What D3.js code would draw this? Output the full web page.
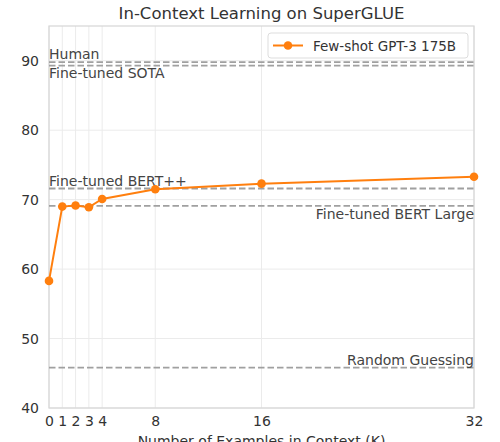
<!DOCTYPE html>
<html><head><meta charset="utf-8">
<script src="https://cdn.jsdelivr.net/npm/d3@7"></script>
<style>body{margin:0;background:#fff;} svg{display:block;font-family:"DejaVu Sans",sans-serif;}</style>
</head><body>
<script>
const kValues = [0, 1, 2, 3, 4, 8, 16, 32];
const gpt3Scores = [58.3, 69.0, 69.15, 68.9, 70.1, 71.5, 72.3, 73.3];
const xTicks = [0, 1, 2, 3, 4, 8, 16, 32];
const yTicks = [40, 50, 60, 70, 80, 90];
const refNames = ["Human", "Fine-tuned SOTA", "Fine-tuned BERT++", "Fine-tuned BERT Large", "Random Guessing"];
const refValues = [89.8, 89.3, 71.6, 69.1, 45.8];
const seriesName = "Few-shot GPT-3 175B";

const W = 500, H = 442;
const m = {l: 49, r: 26, t: 26, b: 34};
const svg = d3.select("body").append("svg").attr("width", W).attr("height", H);
const x = d3.scaleLinear().domain([0, 32]).range([m.l, W - m.r]);
const y = d3.scaleLinear().domain([40, 95]).range([H - m.b, m.t]);

// grid
svg.append("g").selectAll("line").data(xTicks).join("line")
  .attr("x1", d => x(d)).attr("x2", d => x(d)).attr("y1", m.t).attr("y2", H - m.b)
  .attr("stroke", "#ebebeb").attr("stroke-width", 1);
svg.append("g").selectAll("line").data(yTicks).join("line")
  .attr("x1", m.l).attr("x2", W - m.r).attr("y1", d => y(d)).attr("y2", d => y(d))
  .attr("stroke", "#ebebeb").attr("stroke-width", 1);

// frame
svg.append("rect").attr("x", m.l).attr("y", m.t).attr("width", W - m.r - m.l).attr("height", H - m.b - m.t)
  .attr("fill", "none").attr("stroke", "#d6d6d6").attr("stroke-width", 1.2);

// axes
const xAxis = svg.append("g").attr("transform", `translate(0,${H - m.b})`)
  .call(d3.axisBottom(x).tickValues(xTicks).tickSize(0).tickPadding(8).tickFormat(d3.format("d")));
const yAxis = svg.append("g").attr("transform", `translate(${m.l},0)`)
  .call(d3.axisLeft(y).tickValues(yTicks).tickSize(0).tickPadding(10).tickFormat(d3.format("d")));
[xAxis, yAxis].forEach(a => {
  a.select(".domain").remove();
  a.selectAll("text").attr("fill", "#333").style("font-size", "14px").style("font-family", "DejaVu Sans");
});

// reference lines
svg.append("g").selectAll("line").data(refValues).join("line")
  .attr("x1", m.l).attr("x2", W - m.r).attr("y1", d => y(d)).attr("y2", d => y(d))
  .attr("stroke", "#a0a0a0").attr("stroke-width", 1.8).attr("stroke-dasharray", "6.5,3");

const lab = (i, anchor, dy) => svg.append("text")
  .attr("x", anchor === "start" ? m.l : W - m.r).attr("y", y(refValues[i]) + dy)
  .attr("text-anchor", anchor).attr("fill", "#444").style("font-size", "14px").text(refNames[i]);
lab(0, "start", -3);
lab(1, "start", 12);
lab(2, "start", -3);
lab(3, "end", 13);
lab(4, "end", -3);

// series
const orange = "#ff7f0e";
svg.append("path").datum(kValues.map((k, i) => [k, gpt3Scores[i]]))
  .attr("d", d3.line().x(d => x(d[0])).y(d => y(d[1])))
  .attr("fill", "none").attr("stroke", orange).attr("stroke-width", 2);
svg.append("g").selectAll("circle").data(kValues.map((k, i) => [k, gpt3Scores[i]])).join("circle")
  .attr("cx", d => x(d[0])).attr("cy", d => y(d[1])).attr("r", 4.3).attr("fill", orange);

// title
svg.append("text").attr("x", (m.l + W - m.r) / 2).attr("y", 19).attr("text-anchor", "middle")
  .attr("fill", "#333").style("font-size", "16.5px").text("In-Context Learning on SuperGLUE");
// x label
svg.append("text").attr("x", (m.l + W - m.r) / 2).attr("y", 446).attr("text-anchor", "middle")
  .attr("fill", "#333").style("font-size", "14px").text("Number of Examples in Context (K)");

// legend
const lg = svg.append("g").attr("transform", "translate(268,33)");
lg.append("rect").attr("width", 200).attr("height", 25).attr("rx", 3)
  .attr("fill", "#fff").attr("fill-opacity", 0.8).attr("stroke", "#ddd");
lg.append("line").attr("x1", 5).attr("x2", 35).attr("y1", 12.5).attr("y2", 12.5).attr("stroke", orange).attr("stroke-width", 2);
lg.append("circle").attr("cx", 20).attr("cy", 12.5).attr("r", 4.3).attr("fill", orange);
lg.append("text").attr("x", 45).attr("y", 17.5).attr("fill", "#333").style("font-size", "13.5px").text(seriesName);
</script>
</body></html>
